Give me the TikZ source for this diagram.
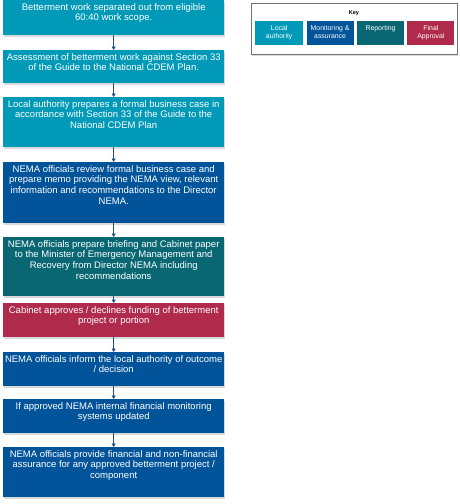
\documentclass[tikz,border=0pt]{standalone}
\usepackage{fontspec}
\setmainfont{Liberation Sans}
\usetikzlibrary{positioning,shadows,arrows.meta}

\definecolor{localauth}{RGB}{0,153,183}
\definecolor{monitor}{RGB}{2,84,154}
\definecolor{reporting}{RGB}{8,103,115}
\definecolor{approval}{RGB}{176,42,76}
\definecolor{flowblue}{RGB}{31,78,140}

% top aligned text block of fixed width and height
\newcommand{\toptext}[3]{\parbox[t][#2][t]{#1}{\centering #3}}

\begin{document}
\begin{tikzpicture}[x=1pt, y=-1pt,
  stage/.style={fill=#1, text=white, anchor=north west, inner xsep=0pt, inner ysep=3pt,
    font=\fontsize{9.5}{10.7}\selectfont,
    drop shadow={shadow xshift=1pt, shadow yshift=-1.5pt, opacity=0.3}},
  keybox/.style={fill=#1, text=white, inner xsep=0pt, inner ysep=4pt,
    font=\fontsize{6.9}{8.2}\selectfont},
  flow/.style={draw=flowblue, line width=0.8pt, -{Triangle[width=4pt,length=3.5pt]}}]
  \useasboundingbox (0,0) rectangle (460,504);

  % Process stages, top to bottom
  \node[stage=localauth] (separate) at (3,0)
    {\toptext{221pt}{29pt}{Betterment work separated out from eligible\\60:40 work scope.}};
  \node[stage=localauth] (assess) at (3,50)
    {\toptext{221pt}{27pt}{Assessment of betterment work against Section 33\\of the Guide to the National CDEM Plan.}};
  \node[stage=localauth] (bizcase) at (3,97)
    {\toptext{221pt}{44pt}{Local authority prepares a formal business case in\\accordance with Section 33 of the Guide to the\\National CDEM Plan}};
  \node[stage=monitor] (review) at (3,162)
    {\toptext{221pt}{55pt}{NEMA officials review formal business case and\\prepare memo providing the NEMA view, relevant\\information and recommendations to the Director\\NEMA.}};
  \node[stage=reporting] (briefing) at (3,237)
    {\toptext{221pt}{53pt}{NEMA officials prepare briefing and Cabinet paper\\to the Minister of Emergency Management and\\Recovery from Director NEMA including\\recommendations}};
  \node[stage=approval] (cabinet) at (3,303)
    {\toptext{221pt}{28pt}{Cabinet approves / declines funding of betterment\\project or portion}};
  \node[stage=monitor] (inform) at (3,352)
    {\toptext{221pt}{28pt}{NEMA officials inform the local authority of outcome\\/ decision}};
  \node[stage=monitor] (systems) at (3,399)
    {\toptext{221pt}{28pt}{If approved NEMA internal financial monitoring\\systems updated}};
  \node[stage=monitor] (assurance) at (3,447)
    {\toptext{221pt}{44pt}{NEMA officials provide financial and non-financial\\assurance for any approved betterment project /\\component}};

  % Connectors between stages
  \foreach \a/\b in {separate/assess, assess/bizcase, bizcase/review, review/briefing,
                     briefing/cabinet, cabinet/inform, inform/systems, systems/assurance} {
    \draw[flow] (\a.south) -- (\b.north);
  }

  % Key
  \node[draw=black!55, line width=0.8pt, fill=white, anchor=north west,
        minimum width=206pt, minimum height=51pt,
        drop shadow={shadow xshift=1pt, shadow yshift=-1.5pt, opacity=0.3}] (keyframe) at (251,3) {};
  \node[font=\fontsize{5.5}{6}\selectfont\bfseries, inner sep=0pt] (keytitle) at (354,13) {Key};
  \node[keybox=localauth, anchor=north west] (keylocal) at (255,21)
    {\toptext{48pt}{16pt}{Local\\authority}};
  \node[keybox=monitor, right=3pt of keylocal] (keymonitor)
    {\toptext{47pt}{16pt}{Monitoring \&\\assurance}};
  \node[keybox=reporting, right=3pt of keymonitor] (keyreport)
    {\toptext{47pt}{16pt}{Reporting}};
  \node[keybox=approval, right=3pt of keyreport] (keyfinal)
    {\toptext{47pt}{16pt}{Final\\Approval}};
\end{tikzpicture}
\end{document}
